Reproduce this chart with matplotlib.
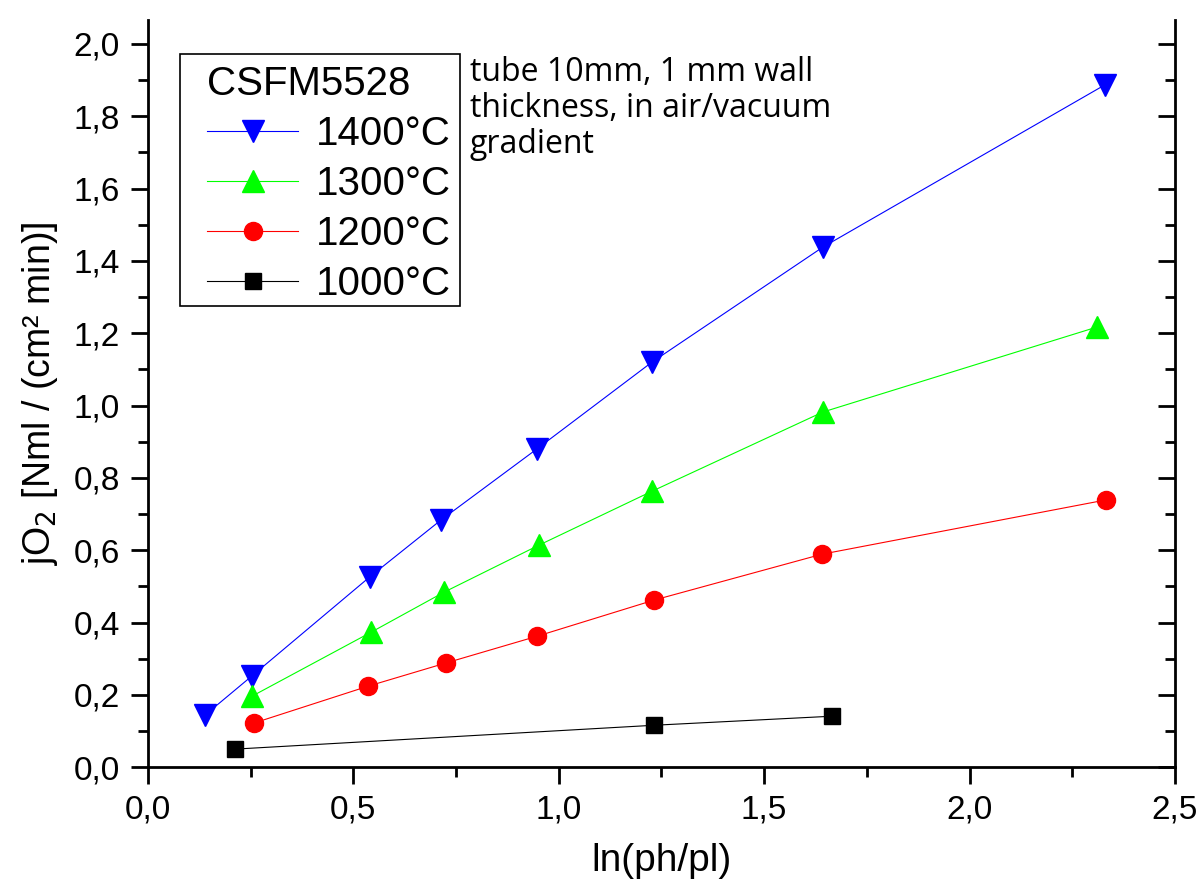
import matplotlib
matplotlib.use("Agg")
import matplotlib.pyplot as plt
from matplotlib.patches import Rectangle
from matplotlib.ticker import MultipleLocator, FuncFormatter, NullFormatter

plt.rcParams['font.family'] = ['Liberation Sans', 'DejaVu Sans']

# data
x_1400 = [0.139, 0.253, 0.540, 0.713, 0.947, 1.227, 1.643, 2.330]
y_1400 = [0.144, 0.252, 0.526, 0.683, 0.880, 1.120, 1.438, 1.887]
x_1300 = [0.253, 0.543, 0.721, 0.952, 1.227, 1.643, 2.310]
y_1300 = [0.196, 0.373, 0.484, 0.614, 0.763, 0.982, 1.217]
x_1200 = [0.258, 0.536, 0.725, 0.947, 1.232, 1.641, 2.332]
y_1200 = [0.122, 0.224, 0.288, 0.362, 0.462, 0.589, 0.739]
x_1000 = [0.212, 1.232, 1.665]
y_1000 = [0.050, 0.116, 0.141]

fig = plt.figure(figsize=(12.02, 8.89), dpi=100)
ax = fig.add_axes([0.123, 0.137, 0.8545, 0.8405])

ax.plot(x_1400, y_1400, '-', color='blue', lw=0.8, marker='v', ms=16.5,
        mec='blue', label='1400°C')
ax.plot(x_1300, y_1300, '-', color='#00ff00', lw=0.8, marker='^', ms=16.5,
        mec='#00ff00', label='1300°C')
ax.plot(x_1200, y_1200, '-', color='red', lw=0.8, marker='o', ms=13,
        mec='red', label='1200°C')
ax.plot(x_1000, y_1000, '-', color='black', lw=0.8, marker='s', ms=12,
        mec='black', label='1000°C')

ax.set_xlim(0, 2.5)
ax.set_ylim(0, 2.066)

fmt = FuncFormatter(lambda v, p: f"{v:.1f}".replace('.', ','))
ax.xaxis.set_major_locator(MultipleLocator(0.5))
ax.xaxis.set_minor_locator(MultipleLocator(0.25))
ax.yaxis.set_major_locator(MultipleLocator(0.2))
ax.yaxis.set_minor_locator(MultipleLocator(0.1))
ax.xaxis.set_major_formatter(fmt)
ax.yaxis.set_major_formatter(fmt)

ax.spines['top'].set_visible(False)
ax.spines['right'].set_visible(False)
for s in ['left', 'bottom']:
    ax.spines[s].set_linewidth(2)

ax.tick_params(which='major', length=12, width=2, labelsize=24, pad=8)
ax.tick_params(which='minor', length=7, width=2)

# right axis with inward ticks, no labels
sec = ax.secondary_yaxis('right')
sec.spines['right'].set_linewidth(2)
sec.yaxis.set_major_locator(MultipleLocator(0.2))
sec.yaxis.set_minor_locator(MultipleLocator(0.1))
sec.yaxis.set_major_formatter(NullFormatter())
sec.tick_params(which='major', direction='in', length=12, width=2)
sec.tick_params(which='minor', direction='in', length=7, width=2)

ax.set_xlabel('ln(ph/pl)', fontsize=28, labelpad=12)
ax.set_ylabel(r'jO$_2$ [Nml / (cm² min)]', fontsize=27, labelpad=10)

leg = ax.legend(title='CSFM5528', loc='upper left', bbox_to_anchor=(0.058, 0.940),
                fontsize=29, title_fontsize=29, frameon=False,
                handlelength=2.25, borderpad=0, labelspacing=0.3,
                handletextpad=0.45, borderaxespad=0)
leg._legend_box.align = 'left'
leg.set_zorder(5)

# Origin-style box around the legend: wider padding on the left
fig.canvas.draw()
bb = leg.get_window_extent()
pad_l, pad_r, pad_t, pad_b = 27, 9, 11, 3
inv = ax.transAxes.inverted()
(x0, y0) = inv.transform((bb.x0 - pad_l, bb.y0 - pad_b))
(x1, y1) = inv.transform((bb.x1 + pad_r, bb.y1 + pad_t))
frame = Rectangle((x0, y0), x1 - x0, y1 - y0, transform=ax.transAxes,
                  facecolor='white', edgecolor='black', lw=1.2, zorder=4)
ax.add_patch(frame)

ax.text(0.3135, 0.952, 'tube 10mm, 1 mm wall\nthickness, in air/vacuum\ngradient',
        transform=ax.transAxes, fontsize=23, family='Open Sans',
        va='top', ha='left', linespacing=1.12)

fig.savefig('out.png', dpi=100)
